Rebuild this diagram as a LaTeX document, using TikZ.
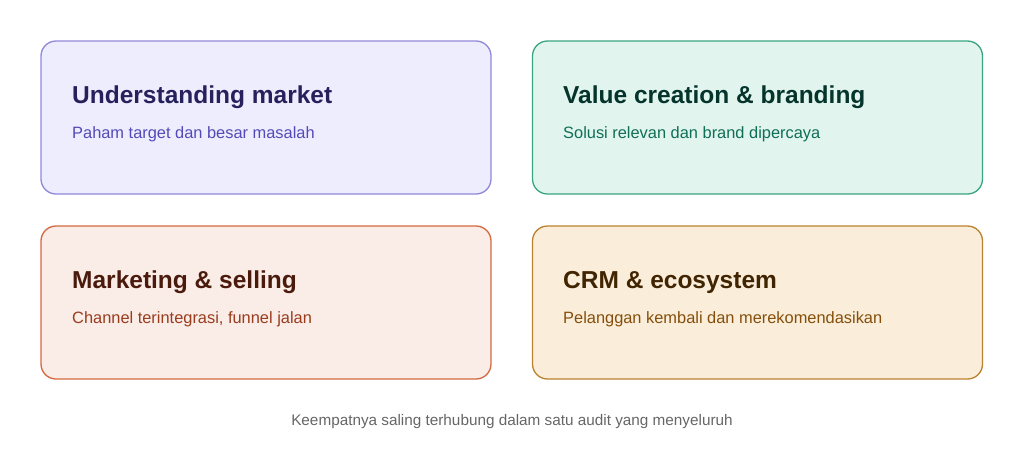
\documentclass[tikz,border=0pt]{standalone}
\usepackage{fontspec}
\setmainfont{Liberation Sans}
\definecolor{umfill}{HTML}{EEEDFE}\definecolor{umdraw}{HTML}{8F87D8}
\definecolor{umhead}{HTML}{26215C}\definecolor{umtext}{HTML}{534AB7}
\definecolor{vcfill}{HTML}{E1F5EE}\definecolor{vcdraw}{HTML}{3AA57E}
\definecolor{vchead}{HTML}{04342C}\definecolor{vctext}{HTML}{0F6E56}
\definecolor{msfill}{HTML}{FAECE7}\definecolor{msdraw}{HTML}{D4693F}
\definecolor{mshead}{HTML}{4A1B0C}\definecolor{mstext}{HTML}{993C1D}
\definecolor{crfill}{HTML}{FAEEDA}\definecolor{crdraw}{HTML}{BA8230}
\definecolor{crhead}{HTML}{412402}\definecolor{crtext}{HTML}{854F0B}
\definecolor{notegray}{HTML}{666666}
\tikzset{
  card/.style={draw, line width=1.3pt, rounded corners=15pt, minimum width=450pt, minimum height=153pt, inner sep=0pt},
  head/.style={anchor=base west, inner sep=0pt, font=\fontsize{24.5}{28}\selectfont\bfseries},
  sub/.style={anchor=base west, inner sep=0pt, font=\fontsize{16.4}{19}\selectfont},
}
\begin{document}
\begin{tikzpicture}[x=1pt,y=1pt]
  \useasboundingbox (0,0) rectangle (1024,-451);
  % cards
  \node[card, fill=umfill, draw=umdraw] at(266,-117.5)(um){};
  \node[card, fill=vcfill, draw=vcdraw] at(757.5,-117.5)(vc){};
  \node[card, fill=msfill, draw=msdraw] at(266,-302.5)(ms){};
  \node[card, fill=crfill, draw=crdraw] at(757.5,-302.5)(cr){};
  % titles
  \node[head, text=umhead] at(72,-103)(umt){Understanding market};
  \node[head, text=vchead] at(563,-103)(vct){Value creation \& branding};
  \node[head, text=mshead] at(72,-288)(mst){Marketing \& selling};
  \node[head, text=crhead] at(563,-288)(crt){CRM \& ecosystem};
  % subtitles
  \node[sub, text=umtext] at(72,-138)(ums){Paham target dan besar masalah};
  \node[sub, text=vctext] at(563,-138)(vcs){Solusi relevan dan brand dipercaya};
  \node[sub, text=mstext] at(72,-323)(mss){Channel terintegrasi, funnel jalan};
  \node[sub, text=crtext] at(563,-323)(crs){Pelanggan kembali dan merekomendasikan};
  % footnote
  \node[anchor=base, inner sep=0pt, text=notegray, font=\fontsize{15.3}{18}\selectfont] at(512,-425.5)(note){Keempatnya saling terhubung dalam satu audit yang menyeluruh};
\end{tikzpicture}
\end{document}
